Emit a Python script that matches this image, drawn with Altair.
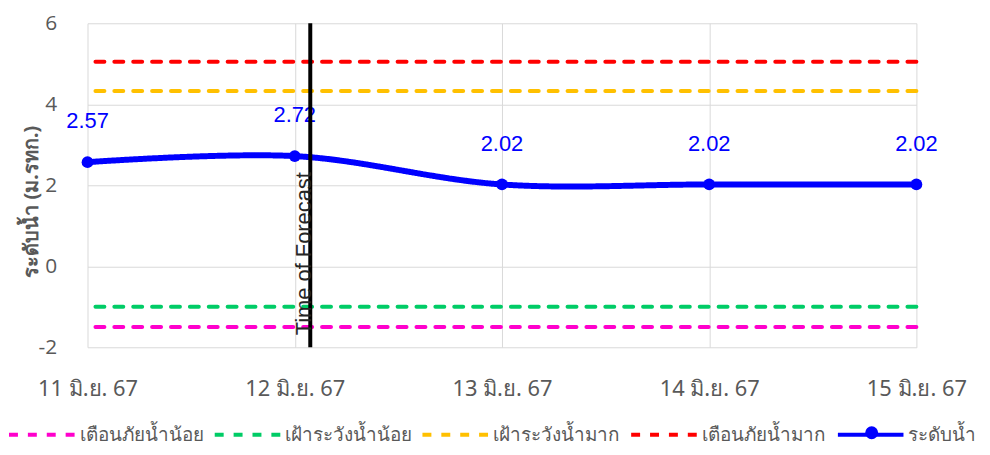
import altair as alt
import pandas as pd

# ---- data ----
date_labels = ["11 มิ.ย. 67", "12 มิ.ย. 67", "13 มิ.ย. 67", "14 มิ.ย. 67", "15 มิ.ย. 67"]
day_index = [0, 1, 2, 3, 4]
water_levels = [2.57, 2.72, 2.02, 2.02, 2.02]
level_name = "ระดับน้ำ"

threshold_names = ["เตือนภัยน้ำน้อย", "เฝ้าระวังน้ำน้อย", "เฝ้าระวังน้ำมาก", "เตือนภัยน้ำมาก"]
threshold_values = [-1.5, -1.0, 4.33, 5.05]

forecast_day = [1.075]
forecast_text = ["Time of Forecast"]

y_ticks = [-2, 0, 2, 4, 6]
y_title = "ระดับน้ำ (ม.รทก.)"

# ---- styles ----
series_order = threshold_names + [level_name]
series_colors = ["#FF00CC", "#00CC66", "#FFC000", "#FF0000", "#0000FF"]
series_dashes = [[9, 10], [9, 10], [9, 10], [9, 10], [1, 0]]
GRID = "#D9D9D9"
TXT = "#595959"

thr_df = pd.DataFrame({"series": threshold_names, "value": threshold_values})
lvl_df = pd.DataFrame({"day": day_index, "value": water_levels, "series": [level_name] * len(day_index)})
fc_df = pd.DataFrame({"day": forecast_day, "label": forecast_text})

label_expr = "[" + ",".join("'" + s + "'" for s in date_labels) + "][datum.value]"

x_scale = alt.Scale(domain=[0, 4], nice=False, zero=False)
y_scale = alt.Scale(domain=[-2, 6], nice=False, zero=False)

color_enc = alt.Color(
    "series:N",
    scale=alt.Scale(domain=series_order, range=series_colors),
    legend=alt.Legend(
        title=None,
        orient="none",
        direction="horizontal",
        legendX=-81,
        legendY=379,
        symbolType="stroke",
        symbolSize=4356,
        symbolStrokeWidth=4,
        labelFontSize=19,
        labelColor=TXT,
        labelFont="Noto Sans",
        labelOffset=3,
        columnPadding=3,
        labelLimit=300,
    ),
)
dash_enc = alt.StrokeDash(
    "series:N",
    scale=alt.Scale(domain=series_order, range=series_dashes),
    legend=None,
)
# circle marker shown on the water-level legend entry
shape_enc = alt.Shape(
    "series:N",
    scale=alt.Scale(domain=[level_name], range=["circle"]),
    legend=alt.Legend(
        title=None,
        orient="none",
        legendX=782,
        legendY=405,
        symbolType="circle",
        symbolSize=170,
        symbolFillColor="#0000FF",
        symbolStrokeColor="#0000FF",
        symbolStrokeWidth=0,
        labelExpr="''",
        labelFontSize=1,
    ),
)

x_axis = alt.Axis(
    values=day_index,
    labelExpr=label_expr,
    title=None,
    grid=True,
    gridColor=GRID,
    domain=False,
    ticks=False,
    labelFontSize=22,
    labelColor=TXT,
    labelPadding=32,
    labelFont="Noto Sans",
    labelFlush=False,
    labelBound=False,
    labelOverlap=False,
)
y_axis = alt.Axis(
    values=y_ticks,
    labelExpr="'' + datum.value",
    title=y_title,
    grid=True,
    gridColor=GRID,
    domain=False,
    ticks=False,
    labelFontSize=21,
    labelColor=TXT,
    labelPadding=31,
    labelFont="Open Sans",
    titleFontSize=20,
    titleFontWeight="bold",
    titleColor=TXT,
    titleFont="Noto Sans",
    titleX=-46,
    titleY=179,
    titleBaseline="bottom",
)

rules = alt.Chart(thr_df).mark_rule(strokeWidth=4, strokeCap="round").encode(
    y=alt.Y("value:Q", scale=y_scale, axis=y_axis),
    color=color_enc,
    strokeDash=dash_enc,
)

line = alt.Chart(lvl_df).mark_line(interpolate="catmull-rom", strokeWidth=6).encode(
    x=alt.X("day:Q", scale=x_scale, axis=x_axis),
    y=alt.Y("value:Q", scale=y_scale),
    color=color_enc,
    strokeDash=dash_enc,
)

points = alt.Chart(lvl_df).mark_point(size=140, opacity=1, filled=True, color="#0000FF").encode(
    x=alt.X("day:Q", scale=x_scale),
    y=alt.Y("value:Q", scale=y_scale),
    shape=shape_enc,
)

labels = alt.Chart(lvl_df).mark_text(
    dy=-41, fontSize=22, font="Liberation Sans", color="#0000FF"
).encode(
    x=alt.X("day:Q", scale=x_scale),
    y=alt.Y("value:Q", scale=y_scale),
    text=alt.Text("value:Q", format=".2f"),
)

fc_rule = alt.Chart(fc_df).mark_rule(strokeWidth=4, color="black").encode(
    x=alt.X("day:Q", scale=x_scale),
)

fc_text = alt.Chart(fc_df).mark_text(
    angle=270, align="left", baseline="bottom", dx=12, dy=6,
    fontSize=22, font="Liberation Sans", color="#262626",
).encode(
    x=alt.X("day:Q", scale=x_scale),
    y=alt.value(326),
    text="label:N",
)

chart = alt.layer(rules, line, points, labels, fc_rule, fc_text).properties(
    width=834,
    height=326,
    autosize=alt.AutoSizeParams(type="none"),
    padding={"left": 80, "top": 14, "right": 66, "bottom": 99},
).configure_view(stroke=None)

chart.save("out.html", embed_options={"renderer": "svg", "actions": False})
